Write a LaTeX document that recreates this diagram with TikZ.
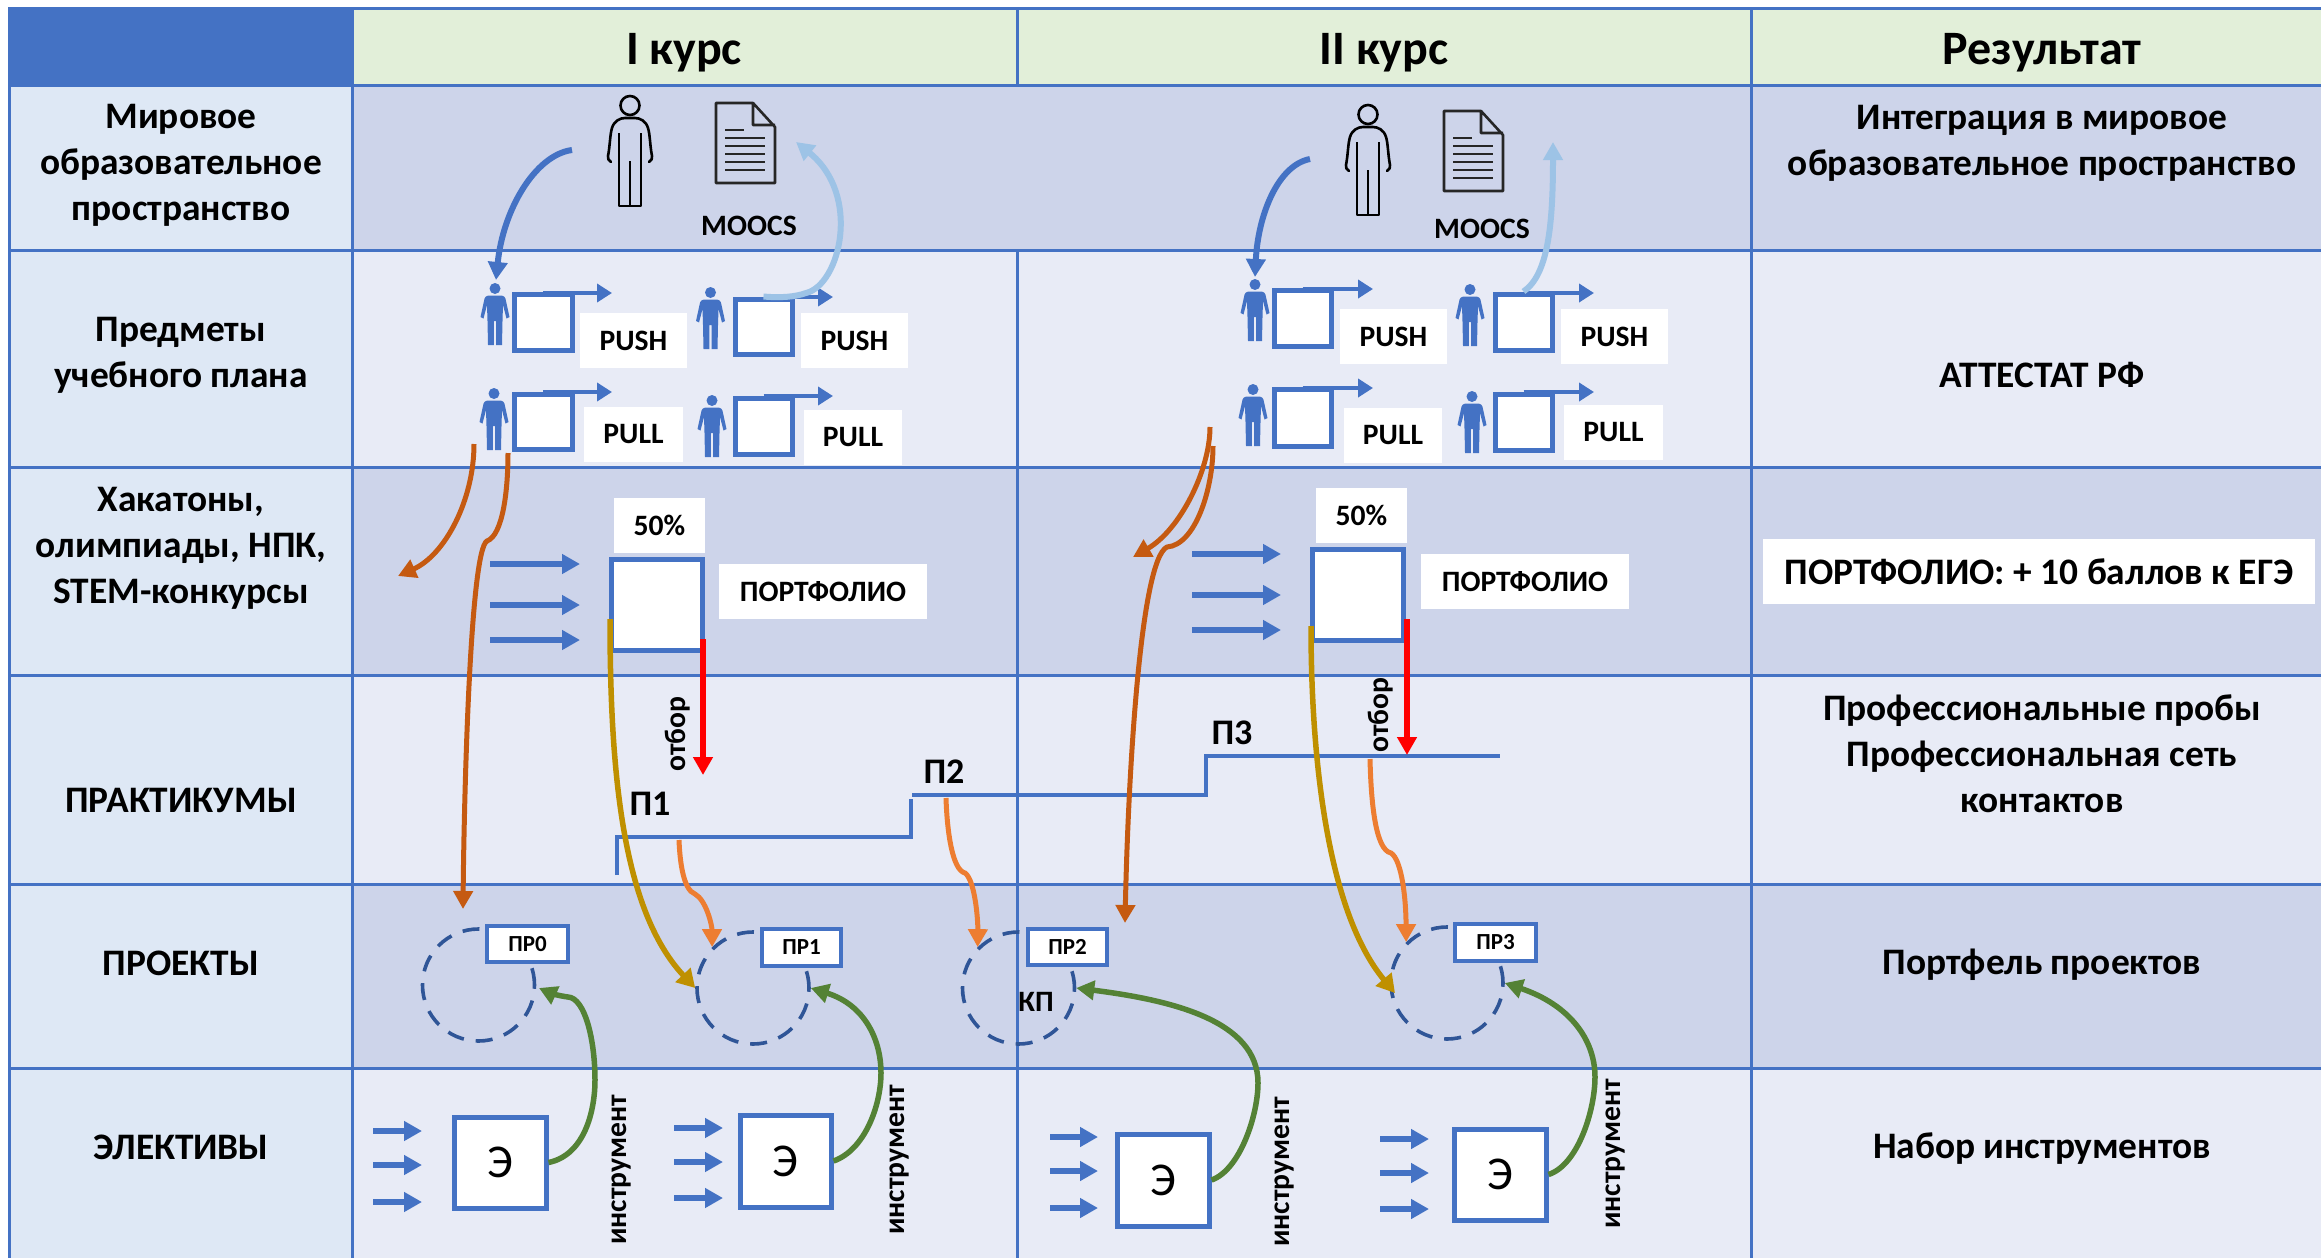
\documentclass[tikz,border=0pt]{standalone}
\usepackage{fontspec}
\setmainfont{Carlito}
\usetikzlibrary{arrows.meta}
\definecolor{tblue}{HTML}{4472C4}
\definecolor{hgreen}{HTML}{E2EFD9}
\definecolor{lcol}{HTML}{DEE8F5}
\definecolor{rowd}{HTML}{CDD4EA}
\definecolor{rowl}{HTML}{E8EBF6}
\definecolor{burnt}{HTML}{C55A11}
\definecolor{orng}{HTML}{ED7D31}
\definecolor{gold}{HTML}{BF9000}
\definecolor{grn}{HTML}{548235}
\definecolor{lblue}{HTML}{9DC3E6}
\definecolor{dashb}{HTML}{2F5597}
\tikzset{
  grid line/.style={draw=tblue,line width=3pt},
  cell/.style={font=\bfseries\fontsize{37.4}{46}\selectfont,align=center,inner sep=0pt,text=black},
  head/.style={font=\bfseries\fontsize{48}{54}\selectfont,inner sep=0pt},
  lab/.style={font=\bfseries\fontsize{29.6}{34}\selectfont,inner sep=0pt},
  plab/.style={font=\bfseries\fontsize{36}{40}\selectfont,inner sep=0pt},
  prlab/.style={font=\bfseries\fontsize{23}{26}\selectfont,inner sep=0pt},
  elab/.style={font=\fontsize{47}{50}\selectfont,inner sep=0pt},
  vlab/.style={font=\bfseries\fontsize{29.6}{34}\selectfont,inner sep=0pt,rotate=90},
  wbox/.style={fill=white,inner sep=0pt},
  bbox/.style={draw=tblue,fill=white,line width=5pt,inner sep=0pt},
  prbox/.style={draw=tblue,fill=white,line width=3.5pt,inner sep=0pt},
  ring/.style={circle,draw=dashb,line width=3.6pt,dash pattern=on 17pt off 12pt,minimum size=112pt,inner sep=0pt},
  topline/.style={draw=tblue,line width=4pt,-{Triangle[length=15pt,width=18pt]}},
  blockarrow/.style={draw=tblue,line width=6.5pt,-{Triangle[length=18pt,width=19pt]}},
  bluecurve/.style={draw=tblue,line width=6pt,-{Triangle[length=18pt,width=19pt]}},
  lbcurve/.style={draw=lblue,line width=6pt,-{Triangle[length=18pt,width=19pt]}},
  burntcurve/.style={draw=burnt,line width=5pt,-{Triangle[length=18pt,width=19pt]}},
  orcurve/.style={draw=orng,line width=5pt,-{Triangle[length=18pt,width=19pt]}},
  goldcurve/.style={draw=gold,line width=5.5pt,-{Triangle[length=18pt,width=20pt]}},
  grcurve/.style={draw=grn,line width=5.5pt,-{Triangle[length=18pt,width=19pt]}},
  redarrow/.style={draw=red,line width=5.5pt,-{Triangle[length=18pt,width=19pt]}},
  stepline/.style={draw=tblue,line width=4pt},
  personblue/.pic={
    \fill[tblue] (0,5.5) circle[radius=5.5pt];
    \fill[tblue] (-5,12.5) -- (5,12.5) .. controls (9,12.5) and (10.5,14) .. (11,18) -- (14.5,34) -- (11.5,35.5) -- (8,22) -- (7.5,38) -- (7,62) -- (1.2,62) -- (1.2,38) -- (-1.2,38) -- (-1.2,62) -- (-7,62) -- (-7.5,38) -- (-8,22) -- (-11.5,35.5) -- (-14.5,34) -- (-11,18) .. controls (-10.5,14) and (-9,12.5) .. (-5,12.5) -- cycle;
  },
  personline/.pic={
    \draw[black,line width=2.6pt,line join=round] (0,9.5) circle[radius=9.5pt];
    \draw[black,line width=2.6pt,line join=round,line cap=round]
      (-19,66) .. controls (-22,65) and (-22,62) .. (-22,60) .. controls (-20,50) and (-20,38) .. (-18,32) .. controls (-16,25) and (-10,22) .. (-5,22) -- (5,22) .. controls (10,22) and (16,25) .. (18,32) .. controls (20,38) and (20,50) .. (22,60) .. controls (22,62) and (22,65) .. (19,66);
    \draw[black,line width=2.6pt,line join=round] (-11,37) -- (-11,110) -- (11,110) -- (11,37) (0,65) -- (0,110);
  },
  docicon/.pic={
    \draw[black!85,line width=2.6pt,line join=round] (0,0) -- (37,0) -- (59,24) -- (59,80) -- (0,80) -- cycle (37,0) -- (37,22) -- (59,22);
    \draw[black!85,line width=2.6pt] (9,27) -- (28,27) (9,35) -- (49,35) (9,43) -- (49,43) (9,51) -- (49,51) (9,59) -- (49,59) (9,67) -- (49,67);
  }
}
\newcommand{\placebox}[6]{\node[#2,minimum width={(#4-#3)*1pt},minimum height={(#6-#5)*1pt}] (#1) at ({(#3+#4)/2},{(#5+#6)/2}) {};}
\newcommand{\labbox}[7]{\node[#2,minimum width={(#4-#3)*1pt},minimum height={(#6-#5)*1pt},#7] (#1) at ({(#3+#4)/2},{(#5+#6)/2}) {};}
\newcommand{\blockset}[5]{%
  \foreach \k/\yy in {a/#3,b/#4,c/#5}{%
    \coordinate (ars#1\k) at (#1,\yy); \coordinate (are#1\k) at (#2,\yy);
    \draw[blockarrow] (ars#1\k) -- (are#1\k);
  }}
\begin{document}
\begin{tikzpicture}[x=1pt,y=-1pt]
\useasboundingbox (0,0) rectangle (2321,1258);
\fill[white] (0,0) rectangle (2321,1258);
% table fills
\fill[tblue] (9,7) rectangle (352,85);
\fill[hgreen] (352,7) rectangle (2321,85);
\fill[lcol] (9,85) rectangle (352,1258);
\fill[rowd] (352,85) rectangle (2321,250);
\fill[rowl] (352,250) rectangle (2321,467);
\fill[rowd] (352,467) rectangle (2321,675);
\fill[rowl] (352,675) rectangle (2321,884);
\fill[rowd] (352,884) rectangle (2321,1068);
\fill[rowl] (352,1068) rectangle (2321,1258);
% grid
\foreach \yy in {8,85,250,467,675,884,1068}{\draw[grid line] (9,\yy) -- (2321,\yy);}
\draw[grid line] (9,7) -- (9,1258);
\draw[grid line] (352,8) -- (352,1258);
\draw[grid line] (1751,8) -- (1751,1258);
\draw[grid line] (1017,8) -- (1017,85);
\draw[grid line] (1017,250) -- (1017,1258);
% headers
\node[head] (h1) at (684,53) {I курс};
\node[head] (h2) at (1384,53) {II курс};
\node[head] (h3) at (2042,53) {Результат};
% left column
\node[cell] (l1) at (181,165) {Мировое\\образовательное\\пространство};
\node[cell] (l2) at (181,355) {Предметы\\учебного плана};
\node[cell] (l3) at (181,548) {Хакатоны,\\олимпиады, НПК,\\STEM-конкурсы};
\node[cell] (l4) at (181,800) {ПРАКТИКУМЫ};
\node[cell] (l5) at (181,963) {ПРОЕКТЫ};
\node[cell] (l6) at (181,1147) {ЭЛЕКТИВЫ};
% right column
\node[cell] (r1) at (2042,143) {Интеграция в мировое\\образовательное пространство};
\node[cell] (r2) at (2042,375) {АТТЕСТАТ РФ};
\labbox{r3box}{wbox}{1763}{2315}{539}{604}{}
\node[cell] (r3) at (2039,572) {ПОРТФОЛИО: + 10 баллов к ЕГЭ};
\node[cell] (r4) at (2042,754) {Профессиональные пробы\\Профессиональная сеть\\контактов};
\node[cell] (r5) at (2042,965) {Портфель проектов};
\node[cell] (r6) at (2042,1149) {Набор инструментов};
% world row icons
\pic at (630,96) {personline};
\pic at (716,103) {docicon};
\pic at (1368,105) {personline};
\pic at (1444,111) {docicon};
\node[lab] (m1) at (749,226) {MOOCS};
\node[lab] (m2) at (1482,229) {MOOCS};
% persons
\pic at (495,283) {personblue};
\pic at (710.5,287) {personblue};
\pic at (494,388) {personblue};
\pic at (712,395) {personblue};
\pic at (1255,279) {personblue};
\pic at (1470,284) {personblue};
\pic at (1253,384) {personblue};
\pic at (1472,391) {personblue};
% small boxes
\placebox{b1}{bbox}{514}{572}{294}{350}
\placebox{b2}{bbox}{735}{792}{299}{354}
\placebox{b3}{bbox}{514}{572}{394}{449}
\placebox{b4}{bbox}{735}{792}{398}{454}
\placebox{b5}{bbox}{1274}{1331}{290}{346}
\placebox{b6}{bbox}{1495}{1552}{294}{350}
\placebox{b7}{bbox}{1274}{1331}{389}{446}
\placebox{b8}{bbox}{1495}{1552}{394}{450}
\foreach \nm/\tx/\ty in {b1/612/293,b2/833/297,b3/612/392,b4/833/396,b5/1373/289,b6/1594/293,b7/1373/388,b8/1594/392}{
  \coordinate (t\nm) at (\tx,\ty);
  \draw[topline] (\nm.north |- t\nm) -- (t\nm);
}
% white labels
\labbox{w1}{wbox}{580}{687}{313}{368}{}
\labbox{w2}{wbox}{801}{908}{313}{368}{}
\labbox{w3}{wbox}{584}{683}{407}{462}{}
\labbox{w4}{wbox}{804}{902}{410}{465}{}
\labbox{w5}{wbox}{1340}{1447}{309}{364}{}
\labbox{w6}{wbox}{1561}{1668}{309}{364}{}
\labbox{w7}{wbox}{1344}{1442}{408}{463}{}
\labbox{w8}{wbox}{1564}{1663}{405}{460}{}
\node[lab] at (w1) (p1) {PUSH};
\node[lab] at (w2) (p2) {PUSH};
\node[lab] at (w3) (p3) {PULL};
\node[lab] at (w4) (p4) {PULL};
\node[lab] at (w5) (p5) {PUSH};
\node[lab] at (w6) (p6) {PUSH};
\node[lab] at (w7) (p7) {PULL};
\node[lab] at (w8) (p8) {PULL};
% world arrows
\coordinate (s1) at (572,150);
\coordinate (e1) at (496,280);
\coordinate (s2) at (1310,159);
\coordinate (e2) at (1255,277);
\coordinate (e3) at (796,142);
\coordinate (e4) at (1553,142);
\draw[bluecurve] (s1) .. controls (535,155) and (503,210) .. (e1);
\draw[bluecurve] (s2) .. controls (1278,165) and (1258,215) .. (e2);
\draw[lbcurve] (b2.north) .. controls (780,298) and (795,297) .. (806,293) .. controls (840,285) and (862,195) .. (e3);
\draw[lbcurve] (b6.north) .. controls (1548,275) and (1553,225) .. (e4);
% portfolio
\placebox{pf1}{bbox}{611}{702}{559}{650}
\placebox{pf2}{bbox}{1312}{1403}{549}{640}
\labbox{f1}{wbox}{614}{705}{498}{553}{}
\labbox{f2}{wbox}{1316}{1407}{488}{543}{}
\node[lab] at (f1) (f1t) {50\%};
\node[lab] at (f2) (f2t) {50\%};
\labbox{pw1}{wbox}{719}{927}{564}{619}{}
\labbox{pw2}{wbox}{1421}{1629}{554}{609}{}
\node[lab] at (pw1) (pt1) {ПОРТФОЛИО};
\node[lab] at (pw2) (pt2) {ПОРТФОЛИО};
\blockset{490}{580}{564}{605}{640}
\blockset{1192}{1281}{554}{595}{630}
% step lines
\coordinate (st1) at (617,875);
\coordinate (st2) at (617,837);
\coordinate (st3) at (911,837);
\coordinate (st4) at (911,799);
\coordinate (st5) at (912,795);
\coordinate (st6) at (1206,795);
\coordinate (st7) at (1206,756);
\coordinate (st8) at (1500,756);
\draw[stepline] (st1) -- (st2) -- (st3) -- (st4);
\draw[stepline] (st5) -- (st6) -- (st7) -- (st8);
\node[plab] (pp1) at (650,804) {П1};
\node[plab] (pp2) at (944,772) {П2};
\node[plab] (pp3) at (1232,733) {П3};
% rings
\node[ring] (c0) at (478.5,985) {};
\node[ring] (c1) at (753,988) {};
\node[ring] (c2) at (1018.5,988) {};
\node[ring] (c3) at (1447,983) {};
\labbox{pr0}{prbox}{487}{568}{926}{962}{}
\labbox{pr1}{prbox}{762}{841}{929}{966}{}
\labbox{pr2}{prbox}{1028}{1107}{929}{965}{}
\labbox{pr3}{prbox}{1455}{1536}{924}{961}{}
\node[prlab] at (pr0) (prt0) {ПР0};
\node[prlab] at (pr1) (prt1) {ПР1};
\node[prlab] at (pr2) (prt2) {ПР2};
\node[prlab] at (pr3) (prt3) {ПР3};
\node[lab] (kp) at (1036,1002) {КП};
% elective boxes
\placebox{e0}{bbox}{454}{546}{1117}{1208}
\placebox{e5}{bbox}{740}{831}{1115}{1207}
\placebox{e6}{bbox}{1117}{1209}{1134}{1226}
\placebox{e7}{bbox}{1454}{1546}{1129}{1220}
\node[elab] at (e0) (et0) {Э};
\node[elab] at (e5) (et1) {Э};
\node[elab] at (e6) (et2) {Э};
\node[elab] at (e7) (et3) {Э};
\blockset{373}{422}{1131}{1165}{1202}
\blockset{674}{723}{1128}{1162}{1198}
\blockset{1050}{1098}{1137}{1171}{1208}
\blockset{1380}{1429}{1139}{1173}{1209}
\node[vlab] (i1) at (622,1170) {инструмент};
\node[vlab] (i2) at (900,1160) {инструмент};
\node[vlab] (i3) at (1284,1172) {инструмент};
\node[vlab] (i4) at (1615,1154) {инструмент};
\node[vlab] (o1) at (678,734) {отбор};
\node[vlab] (o2) at (1381,715) {отбор};
% burnt curves
\coordinate (ba) at (474,444);
\coordinate (bat) at (398,576);
\coordinate (bb) at (508,453);
\coordinate (bbk) at (487,541);
\coordinate (bbt) at (463,909);
\coordinate (bc) at (1210,427);
\coordinate (bct) at (1133,557);
\coordinate (bd) at (1213,446);
\coordinate (bdk) at (1167,547);
\coordinate (bdt) at (1125,923);
\draw[burntcurve] (ba) .. controls (474,500) and (445,555) .. (bat);
\draw[burntcurve] (bb) .. controls (508,490) and (503,535) .. (bbk) .. controls (470,550) and (464,800) .. (bbt);
\draw[burntcurve] (bc) .. controls (1210,470) and (1180,530) .. (bct);
\draw[burntcurve] (bd) .. controls (1213,490) and (1195,545) .. (bdk) .. controls (1140,560) and (1128,780) .. (bdt);
% gold
\coordinate (g1) at (610,619);
\coordinate (g2) at (1311,626);
\draw[goldcurve] (g1) .. controls (610,770) and (622,910) .. (c1.west);
\coordinate (g2e) at (1395,993);
\draw[goldcurve] (g2) .. controls (1311,770) and (1330,915) .. (g2e);
% red
\coordinate (r1s) at (703,639);
\coordinate (r1e) at (703,775);
\coordinate (r2s) at (1407,619);
\coordinate (r2e) at (1407,755);
\draw[redarrow] (r1s) -- (r1e);
\draw[redarrow] (r2s) -- (r2e);
% orange
\coordinate (o1s) at (679,840);
\coordinate (o1k) at (695,894);
\coordinate (o2s) at (946,798);
\coordinate (o2k) at (965,873);
\coordinate (o3s) at (1370,759);
\coordinate (o3k) at (1391,853);
\draw[orcurve] (o1s) .. controls (680,865) and (684,890) .. (o1k) .. controls (706,900) and (712,925) .. (c1.135);
\draw[orcurve] (o2s) .. controls (947,830) and (952,870) .. (o2k) .. controls (975,880) and (978,920) .. (c2.135);
\draw[orcurve] (o3s) .. controls (1371,800) and (1375,850) .. (o3k) .. controls (1402,860) and (1406,900) .. (c3.135);
% green
\coordinate (g0t) at (539,988);
\coordinate (g0k) at (568,997);
\draw[grcurve] (e0.east) .. controls (585,1155) and (595,1110) .. (595,1080) .. controls (595,1040) and (585,998) .. (g0k) .. controls (560,996) and (550,993) .. (g0t);
\draw[grcurve] (e5.east) .. controls (865,1150) and (881,1105) .. (881,1073) .. controls (881,1040) and (865,1005) .. (c1.east);
\draw[grcurve] (e6.east) .. controls (1240,1170) and (1258,1115) .. (1258,1083) .. controls (1258,1020) and (1170,1000) .. (c2.east);
\draw[grcurve] (e7.east) .. controls (1578,1165) and (1595,1110) .. (1595,1077) .. controls (1595,1040) and (1570,1005) .. (c3.east);
\end{tikzpicture}
\end{document}
